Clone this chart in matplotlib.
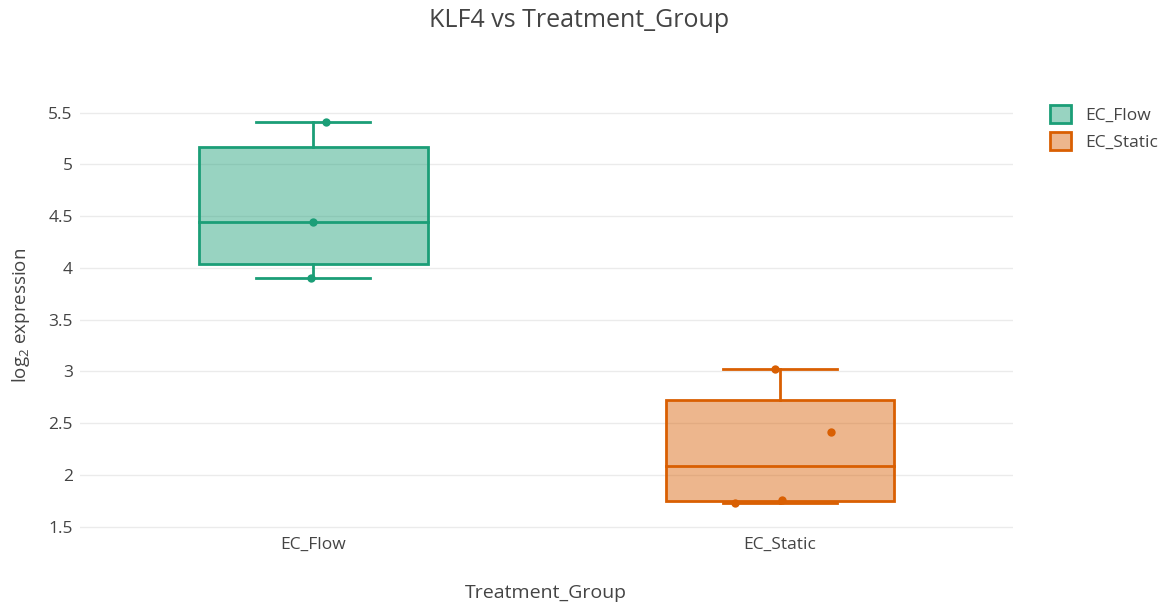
import numpy as np
import matplotlib
matplotlib.use("Agg")
import matplotlib.pyplot as plt
from matplotlib.patches import Patch

plt.rcParams['font.family'] = ['Open Sans', 'DejaVu Sans']
plt.rcParams['mathtext.default'] = 'regular'

# KLF4 log2 expression per treatment group
groups = ['EC_Flow', 'EC_Static']
flow_values = [5.41, 4.44, 3.90]
static_values = [3.02, 2.42, 1.76, 1.73]
# horizontal jitter of the sample points (category units)
flow_jitter = [0.028, 0.0, -0.004]
static_jitter = [-0.011, 0.109, 0.004, -0.096]
colors = ['#1b9e77', '#d95f02']

series = [flow_values, static_values]
jitters = [flow_jitter, static_jitter]

fig = plt.figure(figsize=(11.73, 6.07), dpi=100)
ax = fig.add_axes([0.068, 0.127, 0.796, 0.708])

box_w = 0.49
cap_w = 0.245
for i, (vals, jit, col) in enumerate(zip(series, jitters, colors)):
    v = np.array(vals)
    q1, med, q3 = np.percentile(v, [25, 50, 75], method='hazen')
    lo, hi = v.min(), v.max()
    ax.add_patch(plt.Rectangle((i - box_w / 2, q1), box_w, q3 - q1,
                               facecolor=col, alpha=0.45, edgecolor='none', zorder=2))
    ax.add_patch(plt.Rectangle((i - box_w / 2, q1), box_w, q3 - q1,
                               facecolor='none', edgecolor=col, lw=2, zorder=3))
    ax.plot([i - box_w / 2, i + box_w / 2], [med, med], color=col, lw=2, zorder=3)
    ax.plot([i, i], [q3, hi], color=col, lw=2, zorder=3)
    ax.plot([i, i], [lo, q1], color=col, lw=2, zorder=3)
    ax.plot([i - cap_w / 2, i + cap_w / 2], [hi, hi], color=col, lw=2, zorder=3)
    ax.plot([i - cap_w / 2, i + cap_w / 2], [lo, lo], color=col, lw=2, zorder=3)
    ax.plot(i + np.array(jit), v, 'o', color=col, ms=6, mec='none', zorder=4)

ax.set_xlim(-0.5, 1.5)
ax.set_ylim(1.47, 5.62)
ax.set_xticks(range(len(groups)))
ax.set_xticklabels(groups)
ax.set_yticks([1.5, 2, 2.5, 3, 3.5, 4, 4.5, 5, 5.5])
ax.set_yticklabels(['1.5', '2', '2.5', '3', '3.5', '4', '4.5', '5', '5.5'])
ax.tick_params(length=0, labelsize=12.5, colors='#444444', pad=5)
ax.grid(axis='y', color='#ebebeb', lw=1, zorder=0)
ax.set_axisbelow(True)
for s in ax.spines.values():
    s.set_visible(False)

ax.set_ylabel('log$_2$ expression', fontsize=13.5, color='#444444', labelpad=12)
fig.text(0.465, 0.023, 'Treatment_Group', ha='center', va='center',
         fontsize=14, color='#444444')
fig.text(0.494, 0.966, 'KLF4 vs Treatment_Group', ha='center', va='center',
         fontsize=18, color='#444444')

handles = [Patch(facecolor=matplotlib.colors.to_rgba(c, 0.45), edgecolor=c, lw=2)
           for c in colors]
leg = fig.legend(handles, groups, loc='upper left', bbox_to_anchor=(0.882, 0.853),
                 frameon=False, fontsize=12.5, handlelength=1.2, handleheight=1.2,
                 handletextpad=0.8, labelspacing=0.5)
for t in leg.get_texts():
    t.set_color('#444444')

fig.savefig('out.png', dpi=100)
